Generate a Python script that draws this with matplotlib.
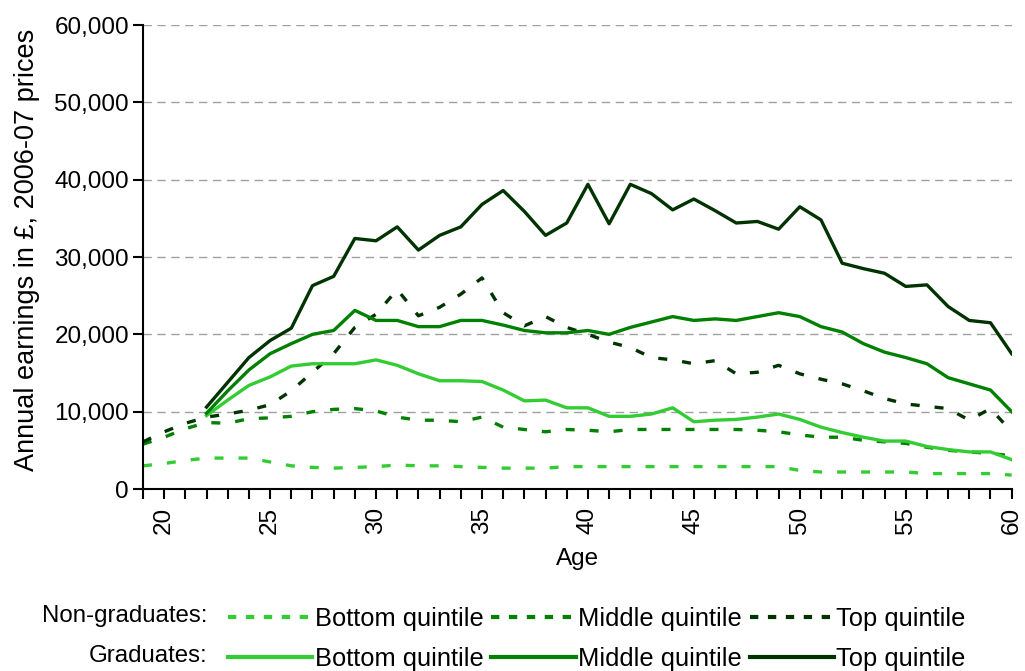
import matplotlib.pyplot as plt
from matplotlib.lines import Line2D
from matplotlib.ticker import MultipleLocator, FuncFormatter

plt.rcParams['font.family'] = ['Liberation Sans', 'DejaVu Sans']

ages_ng = list(range(19, 61))
ages_g = list(range(22, 61))

# non-graduates, by age 19-60
ng_bottom = [3000, 3300, 3700, 4000, 4000, 4000, 3500, 3000, 2800, 2700, 2800, 2900, 3100, 3000,
             3000, 2900, 2800, 2700, 2700, 2700, 2900, 2900, 2900, 2900, 2900, 2900, 2900, 2900,
             2900, 2900, 2900, 2400, 2200, 2200, 2200, 2200, 2200, 2000, 2000, 2000, 2000, 1800]
ng_middle = [5800, 6700, 7800, 8600, 8500, 9100, 9200, 9400, 10000, 10300, 10400, 10100, 9300, 8900,
             8900, 8700, 9300, 8000, 7700, 7400, 7700, 7600, 7400, 7700, 7700, 7700, 7700, 7700,
             7700, 7600, 7400, 7000, 6700, 6700, 6300, 6100, 5900, 5400, 5000, 4800, 4600, 4300]
ng_top = [6100, 7400, 8500, 9300, 9700, 10200, 10900, 12700, 15100, 17500, 20900, 22600, 25800, 22400,
          23500, 25200, 27300, 22800, 21100, 22300, 20900, 20000, 19000, 18300, 17000, 16700, 16200, 16600,
          14900, 15100, 16000, 14900, 14200, 13600, 12700, 11700, 11000, 10700, 10400, 8900, 10400, 7400]

# graduates, by age 22-60
g_bottom = [9500, 11500, 13400, 14500, 15900, 16200, 16200, 16200, 16700, 16000, 14900, 14000, 14000,
            13900, 12800, 11400, 11500, 10500, 10500, 9400, 9400, 9700, 10500, 8700, 8900, 9000,
            9300, 9700, 9000, 8000, 7300, 6700, 6200, 6200, 5500, 5100, 4800, 4800, 3800]
g_middle = [9800, 12700, 15400, 17500, 18800, 20000, 20500, 23100, 21800, 21800, 21000, 21000, 21800,
            21800, 21200, 20500, 20200, 20200, 20500, 20000, 20900, 21600, 22300, 21800, 22000, 21800,
            22300, 22800, 22300, 21000, 20300, 18800, 17700, 17000, 16200, 14400, 13600, 12800, 10000]
g_top = [10600, 13800, 17000, 19200, 20800, 26300, 27500, 32400, 32100, 33900, 30900, 32800, 33900,
         36800, 38600, 35900, 32800, 34400, 39400, 34300, 39400, 38200, 36100, 37500, 36000, 34400,
         34600, 33600, 36500, 34800, 29200, 28500, 27900, 26200, 26400, 23600, 21800, 21500, 17500]

light = '#33cc33'
mid = '#008000'
dark = '#003300'
lw = 2.4
dash = (2.7, 4.5)

fig = plt.figure(figsize=(10.25, 6.71), dpi=100)
ax = fig.add_axes([0.1395, 0.2712, 0.8475, 0.6915])

ax.plot(ages_ng, ng_bottom, color=light, lw=lw, dashes=dash)
ax.plot(ages_ng, ng_middle, color=mid, lw=lw, dashes=dash)
ax.plot(ages_ng, ng_top, color=dark, lw=lw, dashes=dash)
ax.plot(ages_g, g_bottom, color=light, lw=lw)
ax.plot(ages_g, g_middle, color=mid, lw=lw)
ax.plot(ages_g, g_top, color=dark, lw=lw)

ax.set_xlim(19, 60)
ax.set_ylim(0, 60000)
ax.xaxis.set_major_locator(MultipleLocator(5))
ax.xaxis.set_minor_locator(MultipleLocator(1))
ax.yaxis.set_major_locator(MultipleLocator(10000))
ax.yaxis.set_major_formatter(FuncFormatter(lambda v, p: f'{int(v):,}'))
ax.yaxis.grid(True, color='#a0a0a0', lw=1, dashes=(6, 4))
ax.set_axisbelow(True)

for s in ['top', 'right']:
    ax.spines[s].set_visible(False)
for s in ['left', 'bottom']:
    ax.spines[s].set_linewidth(1.5)

ax.tick_params(axis='both', which='both', direction='out', length=7, width=1.5, labelsize=17.5, pad=3)
ax.tick_params(axis='x', which='major', labelrotation=90, pad=6)
ax.set_xlabel('Age', fontsize=17.5, labelpad=10)
ax.set_ylabel('Annual earnings in £, 2006-07 prices', fontsize=19.5)
ax.yaxis.set_label_coords(-0.118, 0.515)

handle_dash = (2.0, 2.3)
handles = [
    Line2D([], [], color=light, lw=3, dashes=handle_dash),
    Line2D([], [], color=light, lw=3),
    Line2D([], [], color=mid, lw=3, dashes=handle_dash),
    Line2D([], [], color=mid, lw=3),
    Line2D([], [], color=dark, lw=3, dashes=handle_dash),
    Line2D([], [], color=dark, lw=3),
]
labels = ['Bottom quintile', 'Bottom quintile', 'Middle quintile', 'Middle quintile',
          'Top quintile', 'Top quintile']
fig.legend(handles, labels, ncol=3, loc='upper left', bbox_to_anchor=(0.2224, 1 - 607 / 671),
           frameon=False, fontsize=18.4, handlelength=3.3, handletextpad=0.1,
           columnspacing=0.3, labelspacing=0.62, borderpad=0, borderaxespad=0)

fig.text(207 / 1025, 1 - 616 / 671, 'Non-graduates:', fontsize=17.3, ha='right', va='center')
fig.text(207 / 1025, 1 - 656 / 671, 'Graduates:', fontsize=17.3, ha='right', va='center')

fig.savefig('out.png', dpi=100)
